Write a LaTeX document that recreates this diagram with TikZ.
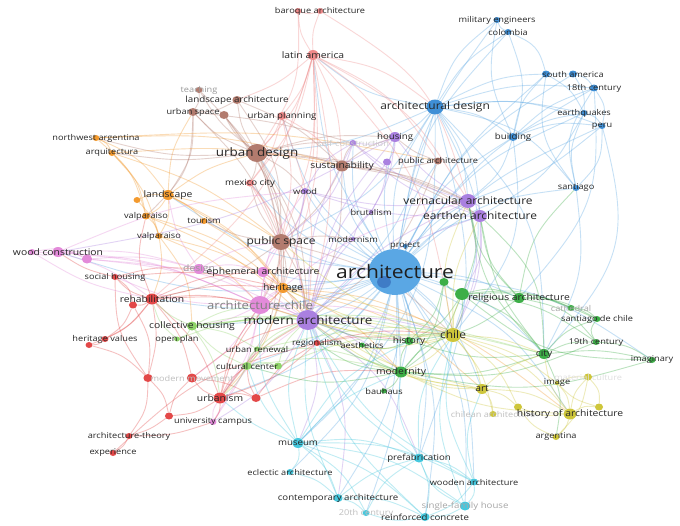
\documentclass[tikz,border=0pt]{standalone}
\usepackage{fontspec}
\setmainfont{Open Sans}
\definecolor{cArch}{HTML}{5AA7E4}
\definecolor{cBd}{HTML}{3F7CC6}
\definecolor{cB}{HTML}{3F8FD6}
\definecolor{cBr}{HTML}{B27B6E}
\definecolor{cR}{HTML}{EF8A8A}
\definecolor{cO}{HTML}{F39A2E}
\definecolor{cP}{HTML}{E38BDA}
\definecolor{cPu}{HTML}{AA80E0}
\definecolor{cRd}{HTML}{E34848}
\definecolor{cG}{HTML}{3DAE47}
\definecolor{cL}{HTML}{8FD46A}
\definecolor{cY}{HTML}{CEC63A}
\definecolor{cC}{HTML}{45C8DE}
\pgfdeclarelayer{bg}
\pgfdeclarelayer{links}
\pgfsetlayers{bg,links,main}
\tikzset{
  kw/.style={circle, inner sep=0pt, minimum size=#1pt},
  lbl/.style args={#1/#2}{font=\fontsize{#1}{#1}\selectfont, text=black!#2, inner sep=0pt},
  link/.style={draw=#1, draw opacity=0.34, line width=0.9pt, looseness=1.25}
}

\begin{document}
\begin{tikzpicture}[x=0.869565pt, y=-1pt, xscale=1.15, transform shape]
	\useasboundingbox (0,0) rectangle (680,525);
	\begin{pgfonlayer}{bg}
		\fill[white] (0,0) rectangle (680,525);
	\end{pgfonlayer}
	% keywords
	\foreach \n/\x/\y/\s/\c in {
		arch/395/272/46/cArch, archmini/384/282/12/cBd, archdes/435/107/15/cB,
		milit/497/20/6/cB, colombia/508/32/6/cB, southam2/546/74/7/cB, southam/573/74/7/cB,
		cent18/594/88/7/cB, earthq/584/113/6/cB, peru/602/126/6/cB, building/513/137/8/cB,
		santiago/576/188/6/cB, project/405/246/4/cB,
		urbdes/257/153/18/cBr, teaching/199/90/6/cBr, landarch/237/100/8/cBr, urbspace/193/112/8/cBr,
		urbspace2/224/115/8/cBr, sustain/342/166/11/cBr, publicsp/281/242/16/cBr, pubarch/438/161/7/cBr,
		baroque/320/11/6/cR, baroque2/298/11/6/cR, latin/313/55/10/cR, urbplan/282/116/8/cR, mexico/250/183/7/cR,
		northwest/96/138/6/cO, arquitec/112/153/6/cO, landscape/168/195/10/cO, orangex/137/200/6/cO,
		valp1/146/216/7/cO, tourism/204/221/6/cO, valp2/159/236/6/cO, heritage/283/288/10/cO,
		woodcon/58/252/10/cP, woodcon2/32/252/6/cP, pink3/87/259/9/cP, design/199/269/10/cP,
		ephem/263/272/10/cP, archchile/260/305/18/cP, univcamp/213/422/6/cP,
		modarch/308/320/20/cPu, vern/468/201/14/cPu, earthen/480/216/12/cPu, housing/395/137/10/cPu,
		selfcon/353/143/6/cPu, pubarch2/387/162/7/cPu, wood/305/191/6/cPu, brutal/371/212/4/cPu, modernism/353/239/4/cPu,
		rehab/152/299/11/cRd, rehab2/133/305/7/cRd, socialh/115/277/6/cRd, herval/105/339/6/cRd, herval2/89/345/6/cRd,
		modmov/192/378/9/cRd, modmov2/148/378/8/cRd, urbanism/220/398/11/cRd, red4/256/398/8/cRd, red3/169/416/7/cRd,
		archtheory/129/436/6/cRd, experience/113/453/6/cRd, regional/317/343/6/cRd,
		relig/462/294/12/cG, relig2/519/298/10/cG, green444/444/282/8/cG, cathedral/571/308/6/cG,
		santdch/597/319/6/cG, c19/596/342/6/cG, history/409/341/8/cG, city/544/354/10/cG,
		imaginary/652/360/6/cG, modernity/401/372/11/cG, bauhaus/384/391/5/cG, aesthetics/362/345/5/cG,
		collective/192/326/9/cL, openplan/177/339/5/cL, urbrenew/257/349/5/cL, cultural/247/366/8/cL, cultural2/278/366/7/cL,
		chile/453/335/14/cY, art/482/389/10/cY, yel518/518/407/7/cY, yel599/599/407/7/cY, matcult/588/377/7/cY,
		image/557/383/4/cY, chilean/493/414/6/cY, histarch/570/414/11/cY, argentina/556/437/6/cY,
		museum/298/443/10/cC, eclectic/290/472/6/cC, contemp/338/498/8/cC, c20/366/513/6/cC,
		prefab/419/458/9/cC, wooden/474/482/7/cC, single/465/506/9/cC, reinforced/425/517/8/cC}
		\node[kw=\s, fill=\c] (\n) at (\x,\y) {};
	% labels
	\foreach \n/\t/\f/\g in {
		matcult/material culture/8/12, selfcon/self-construction/8/20, modmov/modern movement/8/25,
		chilean/chilean architecture/8/25, c20/20th century/8/25, single/single-family house/8.4/35,
		cathedral/cathedral/8/35, teaching/teaching/8/40, design/design/9/40, archchile/architecture-chile/11.4/50,
		arch/architecture/18.3/88, archdes/architectural design/10.4/85, milit/military engineers/8/85,
		colombia/colombia/8/85, southam/south america/8/85, cent18/18th century/8/85, earthq/earthquakes/8/85,
		peru/peru/8/85, building/building/8.4/85, santiago/santiago/8/85, project/project/8/85,
		urbdes/urban design/11.7/85, landarch/landscape architecture/8.5/85, urbspace/urban space/8/85,
		sustain/sustainability/9/85, publicsp/public space/10.4/85, pubarch/public architecture/8/85,
		baroque/baroque architecture/8/85, latin/latin america/9/85, urbplan/urban planning/8.4/85,
		mexico/mexico city/8.4/85, northwest/northwest argentina/8/85, arquitec/arquitectura/8/85,
		landscape/landscape/9/85, valp1/valparaiso/8/85, tourism/tourism/8/85, valp2/valparaiso/8/85,
		heritage/heritage/9/85, woodcon/wood construction/9/85, ephem/ephemeral architecture/9/85,
		univcamp/university campus/8/85, modarch/modern architecture/11.7/85,
		vern/vernacular architecture/10.4/85, earthen/earthen architecture/10.4/85, housing/housing/8.4/85,
		wood/wood/8/85, brutal/brutalism/8/85, modernism/modernism/8/85, rehab/rehabilitation/9/85,
		socialh/social housing/8/85, herval/heritage values/8/85, urbanism/urbanism/9/85,
		archtheory/architecture-theory/8/85, experience/experience/8/85, regional/regionalism/8/85,
		relig2/religious architecture/9/85, santdch/santiago de chile/8/85, c19/19th century/8/85,
		history/history/8.7/85, city/city/9/85, imaginary/imaginary/8/85, modernity/modernity/9/85,
		bauhaus/bauhaus/8/85, aesthetics/aesthetics/8/85, collective/collective housing/9/85,
		openplan/open plan/8/85, urbrenew/urban renewal/8/85, cultural/cultural center/8/85,
		chile/chile/10.4/85, art/art/9/85, image/image/8/85, histarch/history of architecture/9/85,
		argentina/argentina/8/85, museum/museum/8.4/85, eclectic/eclectic architecture/8/85,
		contemp/contemporary architecture/8.4/85, prefab/prefabrication/8.4/85,
		wooden/wooden architecture/8/85, reinforced/reinforced concrete/8.4/85}
		\node[lbl=\f/\g] (\n-t) at (\n) {\t};
	% links
	\begin{pgfonlayer}{links}
	\foreach \a/\b/\k in {
		arch/archdes/15, arch/milit/12, arch/colombia/15, arch/southam/15, arch/southam2/10, arch/cent18/12,
		arch/earthq/15, arch/peru/10, arch/building/15, arch/santiago/18, arch/housing/10, arch/selfcon/15,
		arch/pubarch/10, arch/sustain/15, arch/urbdes/15, arch/latin/12, arch/vern/10, arch/earthen/15,
		arch/brutal/5, arch/modernism/8, arch/publicsp/10, arch/modarch/8, arch/archchile/10, arch/heritage/10,
		arch/ephem/12, arch/relig/8, arch/relig2/12, arch/chile/10, arch/history/10, arch/modernity/12,
		arch/city/15, arch/museum/15, arch/prefab/12, arch/contemp/15, arch/reinforced/12, arch/wooden/15,
		arch/bauhaus/10, arch/aesthetics/10, arch/regional/10, arch/art/12, arch/histarch/15, arch/urbplan/15,
		arch/cultural/12, arch/urbanism/15, arch/mexico/15, arch/wood/12, arch/c20/10, arch/single/15,
		arch/eclectic/15, arch/imaginary/15, arch/woodcon/15, arch/rehab/15, arch/landscape/15, arch/collective/12,
		archdes/milit/15, archdes/colombia/12, archdes/southam/15, archdes/cent18/12, archdes/earthq/10,
		archdes/peru/15, archdes/building/15, archdes/santiago/20, archdes/housing/10, archdes/vern/12,
		archdes/earthen/15, archdes/urbdes/10, archdes/latin/15, archdes/modarch/15, archdes/chile/20,
		archdes/city/20, archdes/publicsp/15, archdes/museum/20, archdes/prefab/15,
		colombia/milit/20, colombia/southam2/25, colombia/building/15, milit/building/-15, southam/cent18/20,
		southam2/earthq/15, southam/earthq/15, cent18/peru/20, earthq/peru/20, building/southam2/15,
		building/cent18/12, building/earthq/10, building/peru/15, santiago/southam2/20, santiago/earthq/15,
		santiago/cent18/20, santiago/peru/-20, building/vern/15, building/chile/20, peru/city/25,
		cent18/relig2/20, santiago/city/15, earthq/earthen/15, peru/vern/10}
		\draw[link=cArch] (\a) to[bend left=\k] (\b);
	\foreach \a/\b/\k in {
		urbdes/teaching/10, urbdes/landarch/10, urbdes/urbspace/12, urbdes/urbspace2/10, urbdes/sustain/10,
		urbdes/publicsp/10, urbdes/mexico/8, urbdes/northwest/10, urbdes/arquitec/8, urbdes/wood/10,
		urbdes/selfcon/8, urbdes/vern/10, urbdes/modarch/12, urbdes/heritage/10, urbdes/housing/10,
		urbdes/earthen/12, landarch/urbspace/15, teaching/urbspace/15, teaching/publicsp/15, urbspace/publicsp/10,
		urbspace/landscape/15, urbspace/valp1/20, urbspace2/publicsp/12, landarch/sustain/10, landarch/publicsp/15,
		urbspace2/modarch/12, sustain/publicsp/10, sustain/housing/10, sustain/vern/10, sustain/earthen/12,
		sustain/modarch/10, publicsp/modernism/10, publicsp/heritage/10, publicsp/modarch/10, publicsp/archchile/10,
		publicsp/mexico/10, publicsp/tourism/10, publicsp/cultural/15, publicsp/urbanism/15, publicsp/rehab/12,
		publicsp/chile/15, pubarch/sustain/10, pubarch/housing/10, pubarch/modarch/15, sustain/selfcon/10,
		urbspace/selfcon/5}
		\draw[link=cBr] (\a) to[bend left=\k] (\b);
	\foreach \a/\b/\k in {
		latin/baroque/10, latin/baroque2/12, baroque/baroque2/20, latin/urbplan/10, latin/urbdes/12,
		latin/sustain/10, latin/publicsp/10, latin/mexico/12, latin/modarch/10, latin/pubarch/15,
		latin/archdes/15, latin/archchile/12, latin/heritage/10, latin/housing/10, latin/vern/15,
		latin/landarch/10, latin/rehab/15, latin/chile/15, baroque/vern/20, baroque2/urbdes/15,
		urbplan/urbdes/10, urbplan/publicsp/10, urbplan/sustain/10, urbplan/modarch/10, mexico/publicsp/10,
		mexico/modarch/12, mexico/heritage/10, urbplan/mexico/10}
		\draw[link=cR] (\a) to[bend left=\k] (\b);
	\foreach \a/\b/\k in {
		northwest/arquitec/20, northwest/landscape/15, northwest/valp1/15, northwest/sustain/10,
		northwest/pubarch/8, arquitec/valp1/15, arquitec/valp2/12, arquitec/sustain/8, arquitec/publicsp/10,
		landscape/valp1/15, landscape/valp2/15, landscape/tourism/10, landscape/heritage/12, landscape/urbdes/10,
		landscape/publicsp/10, landscape/urbspace/12, valp1/valp2/15, valp1/heritage/12, valp2/heritage/10,
		valp2/rehab/12, valp2/archchile/12, valp2/collective/15, heritage/modarch/10, heritage/archchile/10,
		tourism/heritage/10, orangex/landscape/15, orangex/valp2/10, heritage/chile/12, heritage/modernity/12,
		heritage/art/15, valp1/modarch/10, landscape/modarch/12, heritage/urbanism/12, heritage/histarch/15}
		\draw[link=cO] (\a) to[bend left=\k] (\b);
	\foreach \a/\b/\k in {
		woodcon/woodcon2/20, woodcon/pink3/15, woodcon/design/10, woodcon/archchile/10, woodcon/rehab/10,
		woodcon2/pink3/20, woodcon2/archchile/12, woodcon2/rehab/-10, design/archchile/15, design/ephem/15,
		ephem/archchile/15, archchile/modarch/10, archchile/univcamp/10, archchile/urbanism/10, pink3/design/10,
		pink3/archchile/10, archchile/collective/10, univcamp/urbanism/15, design/modarch/10, ephem/modarch/10,
		archchile/wood/12, archchile/publicsp/10, archchile/vern/12, archchile/chile/10, design/publicsp/12,
		ephem/publicsp/10, archchile/socialh/12, design/landscape/10, archchile/modmov/10, univcamp/modarch/12,
		archchile/heritage/10, woodcon/wood/10, pink3/modarch/12}
		\draw[link=cP] (\a) to[bend left=\k] (\b);
	\foreach \a/\b/\k in {
		modarch/vern/10, modarch/earthen/12, vern/earthen/30, modarch/brutal/10, modarch/wood/10,
		modarch/housing/12, modarch/selfcon/12, modarch/pubarch2/10, housing/selfcon/15, housing/pubarch2/15,
		vern/housing/10, earthen/wood/10, modarch/modernism/10, modarch/regional/15, modarch/chile/10,
		modarch/museum/15, vern/wood/10, vern/selfcon/10, earthen/selfcon/12, wood/selfcon/15, housing/brutal/10,
		pubarch2/brutal/10, vern/chile/15, earthen/relig/15, modarch/history/12, modarch/modernity/12,
		modarch/aesthetics/10, wood/publicsp/15, selfcon/publicsp/15, modarch/univcamp/15, modernism/brutal/15,
		earthen/chile/12, modarch/prefab/15, modarch/contemp/15, housing/woodcon/10}
		\draw[link=cPu] (\a) to[bend left=\k] (\b);
	\foreach \a/\b/\k in {
		rehab/socialh/15, rehab/rehab2/20, rehab/herval/12, rehab/herval2/15, rehab/modmov/12, rehab/modmov2/10,
		rehab/urbanism/12, urbanism/modmov/15, urbanism/red3/15, urbanism/red4/20, urbanism/univcamp/15,
		modmov2/archtheory/15, archtheory/experience/15, experience/regional/15, rehab2/herval/15,
		socialh/woodcon/10, red4/regional/12, modmov/red4/12, urbanism/archchile/10, regional/urbanism/12,
		modmov2/red3/15, red3/archtheory/10, rehab2/modmov2/15, socialh/rehab2/20, herval/herval2/20,
		herval2/modmov2/15, rehab/archchile/10, rehab/heritage/10, rehab/modarch/12, rehab/ephem/12,
		socialh/heritage/10, urbanism/modarch/12, urbanism/heritage/12, modmov/modarch/12, regional/chile/10,
		regional/history/10, rehab/valp1/15, red4/cultural/10, urbanism/cultural/12, archtheory/univcamp/-10,
		red3/modmov/15, socialh/design/10, modmov2/socialh/15, red4/modernity/15}
		\draw[link=cRd] (\a) to[bend left=\k] (\b);
	\foreach \a/\b/\k in {
		relig/relig2/20, relig/cathedral/15, relig/santdch/15, relig/c19/15, relig/city/15, relig/history/15,
		relig/green444/15, relig2/cathedral/15, relig2/santdch/15, relig2/c19/20, city/imaginary/10, city/c19/15,
		city/santdch/15, city/modernity/12, city/history/12, modernity/bauhaus/15, modernity/history/15,
		modernity/aesthetics/15, modernity/chile/15, history/chile/15, c19/santdch/30, cathedral/santdch/20,
		vern/relig/15, earthen/city/20, modernity/cultural/15, green444/history/15, green444/modernity/15,
		city/vern/15, city/earthen/12, imaginary/relig/20, imaginary/modernity/15, relig2/vern/15,
		relig/modernity/15, history/aesthetics/20, modernity/regional/15, c19/modernity/15, relig2/history/15,
		relig/chile/12, history/modarch/10, modernity/modarch/12, city/argentina/15, relig2/earthen/15,
		c19/imaginary/15, relig2/santiago/15}
		\draw[link=cG] (\a) to[bend left=\k] (\b);
	\foreach \a/\b/\k in {
		collective/openplan/20, collective/urbrenew/12, cultural/urbrenew/15, cultural/collective/12,
		collective/modarch/10, cultural/modarch/10, urbrenew/modernity/12, collective/rehab/10, openplan/rehab/15,
		collective/archchile/10, cultural/cultural2/20, cultural2/modarch/15, urbrenew/modarch/10,
		collective/history/12, cultural/modernity/12, openplan/modarch/12, collective/urbanism/12,
		cultural/urbanism/10, collective/city/12, urbrenew/city/15, cultural2/chile/12, collective/chile/10}
		\draw[link=cL] (\a) to[bend left=\k] (\b);
	\foreach \a/\b/\k in {
		chile/art/12, chile/histarch/15, chile/image/12, chile/city/10, art/histarch/15, art/chilean/15,
		art/yel518/15, histarch/argentina/15, histarch/yel599/20, histarch/matcult/15, image/matcult/15,
		matcult/yel599/20, histarch/yel518/15, chile/modernity/12, art/city/12, chile/heritage/10,
		image/histarch/15, argentina/yel518/15, chile/yel518/15, chile/chilean/12, chile/modarch/10,
		chile/archchile/10, art/modernity/12, art/modarch/15, chile/regional/12, chile/publicsp/12,
		art/heritage/15, histarch/city/12, matcult/argentina/15, yel599/image/15, chile/history/15,
		art/aesthetics/15, histarch/modernity/12, chile/relig/10, chile/vern/15, chile/earthen/12}
		\draw[link=cY] (\a) to[bend left=\k] (\b);
	\foreach \a/\b/\k in {
		museum/eclectic/20, museum/contemp/15, museum/c20/15, museum/prefab/15, prefab/reinforced/15,
		prefab/wooden/15, wooden/single/20, single/reinforced/15, contemp/c20/15, contemp/reinforced/15,
		reinforced/c20/15, museum/modarch/15, prefab/modarch/15, museum/urbanism/10, wooden/chile/15,
		single/prefab/20, wooden/reinforced/15, eclectic/contemp/15, museum/reinforced/12, museum/single/15,
		c20/prefab/15, prefab/chile/15, wooden/art/15, single/chile/15, museum/archchile/15, museum/cultural/12,
		contemp/prefab/12, museum/wooden/15, prefab/modernity/15, museum/history/15, museum/modernity/12,
		wooden/modarch/15, reinforced/modarch/15, contemp/modarch/12}
		\draw[link=cC] (\a) to[bend left=\k] (\b);
	\end{pgfonlayer}
\end{tikzpicture}
\end{document}
